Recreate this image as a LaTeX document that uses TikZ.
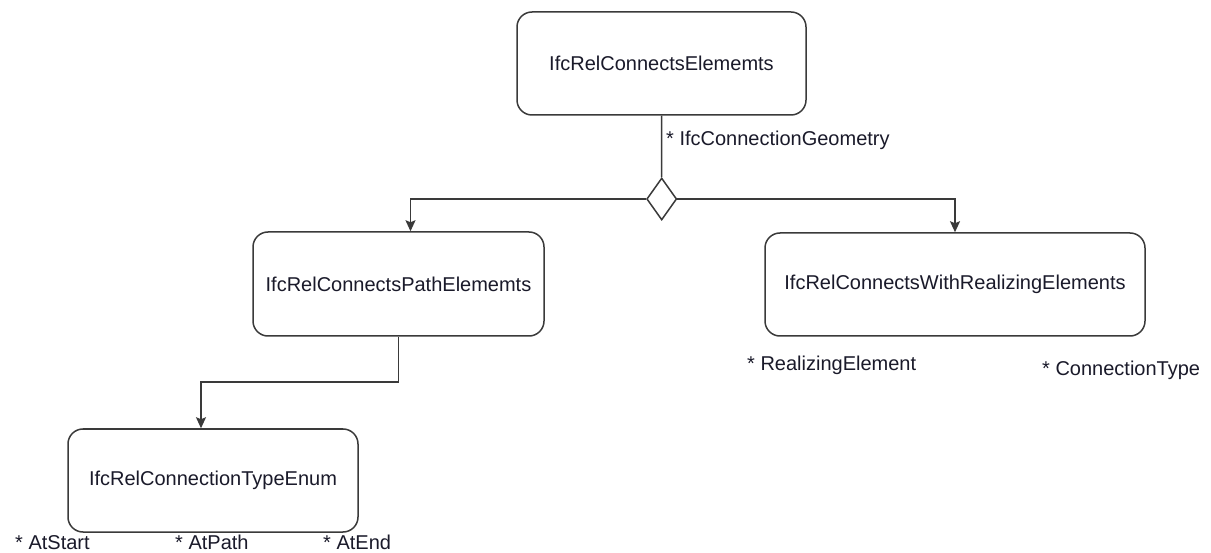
\documentclass[tikz,border=0pt]{standalone}
\usepackage{fontspec}
\setmainfont{Liberation Sans}
\usetikzlibrary{shapes.geometric,arrows.meta}
\definecolor{linec}{HTML}{3A3A3A}
\definecolor{textc}{HTML}{1A1A2A}
\begin{document}
\begin{tikzpicture}[x=1pt,y=-1pt,
  every node/.style={font=\fontsize{20}{24}\selectfont, text=textc},
  entity/.style={draw=linec, line width=1.5pt, rounded corners=15pt, fill=white, inner sep=0pt},
  conn/.style={draw=linec, line width=1.5pt},
  arr/.style={conn, -{Stealth[length=11pt,width=10pt,inset=2pt]}},
  lab/.style={anchor=west, inner sep=0pt},
  blab/.style={anchor=base west, inner sep=0pt}]
\path[use as bounding box, fill=white] (0,0) rectangle (1211,553);

\node[entity, minimum width=289pt, minimum height=103pt] (top) at (661.5,63.5) {IfcRelConnectsElememts};
\node[entity, minimum width=291pt, minimum height=104pt] (path) at (398.5,284) {IfcRelConnectsPathElememts};
\node[entity, minimum width=380pt, minimum height=103pt] (real) at (955,284.5) {IfcRelConnectsWithRealizingElements};
\node[entity, minimum width=290pt, minimum height=103pt] (enum) at (213,480.5) {IfcRelConnectionTypeEnum};

\node[diamond, draw=linec, line width=1.5pt, fill=white, inner sep=0pt, minimum width=30pt, minimum height=42pt] (dia) at (661.7,199) {};

\draw[conn] (top.south) -- (dia.north);
\draw[arr] (dia.west) -| ([xshift=12pt]path.north);
\draw[arr] (dia.east) -| (real.north);
\coordinate (bend) at (398.5,382);
\draw[arr] (path.south) -- (bend) -| ([xshift=-12pt]enum.north);

\node[lab] (geo) at (666,140) {* IfcConnectionGeometry};
\node[lab] (re) at (747,365) {* RealizingElement};
\node[lab] (ct) at (1042,370) {* ConnectionType};
\node[blab] (as) at (15,549) {* AtStart};
\node[blab] (ap) at (175,549) {* AtPath};
\node[blab] (ae) at (323,549) {* AtEnd};
\end{tikzpicture}
\end{document}
